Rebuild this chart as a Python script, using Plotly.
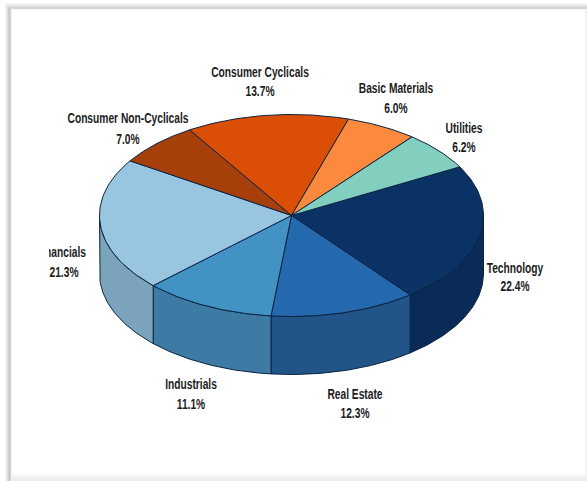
import numpy as np
import plotly.graph_objects as go

# Data, clockwise from the Technology/Utilities boundary
categories = ["Technology", "Real Estate", "Industrials", "Financials",
              "Consumer Non-Cyclicals", "Consumer Cyclicals", "Basic Materials", "Utilities"]
shares = [22.4, 12.3, 11.1, 21.3, 7.0, 13.7, 6.0, 6.2]

# Styling
top_colors = ["#0A3264", "#2468AE", "#4292C4", "#98C6E0", "#A63F0A", "#DB4E05", "#FB8A3F", "#82CFC0"]
side_colors = ["#0A2A58", "#225488", "#3D7BA5", "#7CA3BC", "#8A3408", "#B54004", "#D07030", "#6CAC9F"]
edge = "#0B2342"
name_xy = [(515, 269), (355, 395), (191, 385), (61, 253), (128, 119), (260, 73), (396, 89), (464, 129)]
pct_xy = [(515, 287), (355, 414), (191, 405), (64, 273), (128, 140), (260, 92), (396, 109), (464, 148)]

W, H = 587, 481
CX, CY, RX, RY, DEPTH = 291.5, 215.5, 192, 101, 58
START = 28.8


def ell(a):
    a = np.radians(a)
    return CX + RX * np.cos(a), CY - RY * np.sin(a)


fig = go.Figure()
ang = START
spans = []
for s in shares:
    spans.append((ang, ang - s * 3.6))
    ang -= s * 3.6

# Side walls (only the front half of the cylinder is visible)
for (a0, a1), c in zip(spans, side_colors):
    hi, lo = min(a0, 0), max(a1, -180)
    if hi <= lo:
        continue
    t = np.linspace(hi, lo, 60)
    x, y = ell(t)
    fig.add_trace(go.Scatter(
        x=np.r_[x, x[::-1], x[0]], y=np.r_[y, y[::-1] + DEPTH, y[0]],
        mode="lines", fill="toself", fillcolor=c, line=dict(color=edge, width=1), hoverinfo="skip"))

# Top face
for (a0, a1), c, n, s in zip(spans, top_colors, categories, shares):
    t = np.linspace(a0, a1, 60)
    x, y = ell(t)
    fig.add_trace(go.Scatter(
        x=np.r_[CX, x, CX], y=np.r_[CY, y, CY],
        mode="lines", fill="toself", fillcolor=c, line=dict(color=edge, width=1),
        name=n, text=f"{s:.1f}%", hoverinfo="name+text"))

font = dict(family="Liberation Sans, Arial, sans-serif", size=14, color="#1c1c1c", weight="bold")
fig.add_trace(go.Scatter(
    x=[p[0] for p in name_xy], y=[p[1] for p in name_xy], mode="text",
    text=categories, textfont=font, textposition="middle center", hoverinfo="skip"))
fig.add_trace(go.Scatter(
    x=[p[0] for p in pct_xy], y=[p[1] for p in pct_xy], mode="text",
    text=[f"{s:.1f}%" for s in shares], textfont=font, textposition="middle center", hoverinfo="skip"))


def band(x0, y0, x1, y1, col):
    return dict(type="rect", xref="x", yref="y", x0=x0, y0=y0, x1=x1, y1=y1,
                fillcolor=col, line_width=0, layer="below")


shapes = []
# Soft card edge: fading bands, strongest on the left and at the top
for i, col in enumerate(["#F5F5F5", "#ECECEC", "#E0E0E0", "#D0D0D0", "#C8C8C8", "#D4D4D4", "#F2F2F2"]):
    shapes.append(band(5 + i, 5, 6 + i, H, col))
for i, col in enumerate(["#F6F6F6", "#EEEEEE", "#E6E6E6", "#DEDEDE", "#D6D6D6", "#D8D8D8", "#F4F4F4"]):
    shapes.append(band(5 + i, 3 + i, W, 4 + i, col))
for i, col in enumerate(["#FBFBFB", "#F7F7F7", "#F3F3F3", "#F0F0F0", "#EEEEEE", "#EEEEEE", "#EEEEEE"]):
    shapes.append(band(12, 474 + i, W, 475 + i, col))
for i, col in enumerate(["#FBFBFB", "#F6F6F6", "#F2F2F2"]):
    shapes.append(band(584 + i, 10, 585 + i, 474, col))
# The first label is cut off at the left in the source image
shapes.append(dict(type="rect", xref="x", yref="y", x0=14, y0=244, x1=49, y1=264,
                   fillcolor="#FFFFFF", line_width=0, layer="above"))

fig.update_layout(
    width=W, height=H, margin=dict(l=0, r=0, t=0, b=0), showlegend=False,
    paper_bgcolor="white", plot_bgcolor="rgba(0,0,0,0)", shapes=shapes,
    xaxis=dict(range=[0, W], visible=False, fixedrange=True),
    yaxis=dict(range=[H, 0], visible=False, fixedrange=True),
)
post = """
document.body.style.margin='0';
document.documentElement.style.overflow='hidden';
document.querySelectorAll('.textpoint text').forEach(function(t){
  var L = t.getComputedTextLength();
  t.setAttribute('textLength', L * 0.73);
  t.setAttribute('lengthAdjust', 'spacingAndGlyphs');
});
"""
fig.write_html("out.html", config=dict(displayModeBar=False), post_script=post)
